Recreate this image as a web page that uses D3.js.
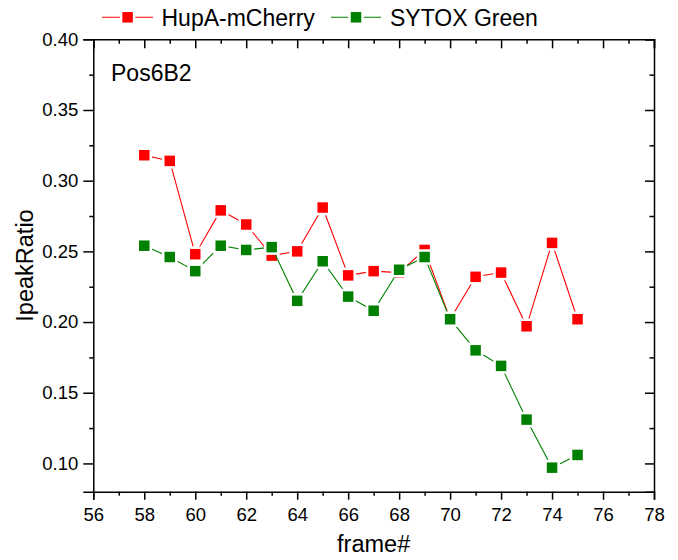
<!DOCTYPE html>
<html>
<head>
<meta charset="utf-8">
<script src="https://cdn.jsdelivr.net/npm/d3@7"></script>
<style>
  html, body { margin: 0; padding: 0; background: #fff; }
  svg { display: block; font-family: "Liberation Sans", Arial, sans-serif; }
</style>
</head>
<body>
<svg id="chart" width="678" height="560"></svg>
<script>
const frames = [58, 59, 60, 61, 62, 63, 64, 65, 66, 67, 68, 69, 70, 71, 72, 73, 74, 75];
const hupaValues = [0.318, 0.314, 0.248, 0.279, 0.269, 0.247, 0.250, 0.281, 0.233, 0.236, 0.235, 0.251, 0.202, 0.232, 0.235, 0.197, 0.256, 0.202];
const sytoxValues = [0.254, 0.246, 0.236, 0.254, 0.251, 0.253, 0.215, 0.243, 0.218, 0.208, 0.237, 0.246, 0.202, 0.180, 0.169, 0.131, 0.097, 0.106];
const xTicks = [56, 58, 60, 62, 64, 66, 68, 70, 72, 74, 76, 78];
const xMinorTicks = [57, 59, 61, 63, 65, 67, 69, 71, 73, 75, 77];
const yTicks = [0.10, 0.15, 0.20, 0.25, 0.30, 0.35, 0.40];
const yMinorTicks = [0.125, 0.175, 0.225, 0.275, 0.325, 0.375];
const seriesNames = ["HupA-mCherry", "SYTOX Green"];
const seriesColors = ["#ff0000", "#008000"];
const xTitle = "frame#";
const yTitle = "IpeakRatio";
const panelLabel = "Pos6B2";

const svg = d3.select("#chart");
const L = 93.3, R = 654, T = 39.3, B = 491.7;
const x = d3.scaleLinear().domain([56, 78]).range([L, R]);
const y = d3.scaleLinear().domain([0.08, 0.40]).range([B, T]);

function styleAxis(g) {
  g.selectAll("path").attr("stroke", "#000").attr("stroke-width", 1.5);
  g.selectAll("line").attr("stroke", "#000").attr("stroke-width", 1.5);
  g.selectAll("text").attr("fill", "#000").attr("font-size", 18.5)
    .attr("font-family", '"Liberation Sans", Arial, sans-serif');
}

// bottom axis
svg.append("g").attr("transform", `translate(0,${B})`)
  .call(d3.axisBottom(x).tickValues(xTicks).tickSize(8).tickPadding(8).tickFormat(d3.format("d")))
  .call(styleAxis);
svg.append("g").attr("transform", `translate(0,${B})`)
  .call(d3.axisBottom(x).tickValues(xMinorTicks).tickSize(4).tickFormat(""))
  .call(styleAxis).select(".domain").remove();
// top axis (inward ticks)
svg.append("g").attr("transform", `translate(0,${T})`)
  .call(d3.axisTop(x).tickValues(xTicks).tickSize(-9).tickFormat(""))
  .call(styleAxis);
svg.append("g").attr("transform", `translate(0,${T})`)
  .call(d3.axisTop(x).tickValues(xMinorTicks).tickSize(-4.5).tickFormat(""))
  .call(styleAxis).select(".domain").remove();
// left axis
svg.append("g").attr("transform", `translate(${L},0)`)
  .call(d3.axisLeft(y).tickValues(yTicks).tickSize(10).tickPadding(5).tickFormat(d3.format(".2f")))
  .call(styleAxis);
svg.append("g").attr("transform", `translate(${L},0)`)
  .call(d3.axisLeft(y).tickValues(yMinorTicks).tickSize(4).tickFormat(""))
  .call(styleAxis).select(".domain").remove();
// right axis (inward ticks)
svg.append("g").attr("transform", `translate(${R},0)`)
  .call(d3.axisRight(y).tickValues(yTicks).tickSize(-9).tickFormat(""))
  .call(styleAxis);
svg.append("g").attr("transform", `translate(${R},0)`)
  .call(d3.axisRight(y).tickValues(yMinorTicks).tickSize(-4.5).tickFormat(""))
  .call(styleAxis).select(".domain").remove();

// axis titles
svg.append("text").attr("x", (L + R) / 2).attr("y", 552).attr("text-anchor", "middle")
  .attr("font-size", 23.5).attr("fill", "#000").text(xTitle);
svg.append("text").attr("transform", `translate(33,${(T + B) / 2}) rotate(-90)`)
  .attr("text-anchor", "middle").attr("font-size", 23.5).attr("fill", "#000").text(yTitle);

// panel label
svg.append("text").attr("x", 111).attr("y", 81).attr("font-size", 23).attr("fill", "#000").text(panelLabel);

// series
const series = [hupaValues, sytoxValues];
const line = d3.line().x((d, i) => x(frames[i])).y(d => y(d));
const mk = 13;
series.forEach((vals, si) => {
  const g = svg.append("g");
  g.append("path").datum(vals).attr("d", line).attr("fill", "none")
    .attr("stroke", seriesColors[si]).attr("stroke-width", 1.1);
  g.selectAll("rect").data(vals).join("rect")
    .attr("x", (d, i) => x(frames[i]) - mk / 2)
    .attr("y", d => y(d) - mk / 2)
    .attr("width", mk).attr("height", mk)
    .attr("fill", seriesColors[si])
    .attr("stroke", "#fff").attr("stroke-width", 2.5);
});

// legend
const legendItems = [
  { x1: 102, x2: 153, mx: 127.6, tx: 161.5 },
  { x1: 331, x2: 381, mx: 356, tx: 390 }
];
legendItems.forEach((it, i) => {
  const g = svg.append("g");
  const ly = 17.3;
  g.append("line").attr("x1", it.x1).attr("x2", it.x2).attr("y1", ly).attr("y2", ly)
    .attr("stroke", seriesColors[i]).attr("stroke-width", 1.1);
  g.append("rect").attr("x", it.mx - mk / 2).attr("y", ly - mk / 2)
    .attr("width", mk).attr("height", mk).attr("fill", seriesColors[i])
    .attr("stroke", "#fff").attr("stroke-width", 2.5);
  g.append("text").attr("x", it.tx).attr("y", 26).attr("font-size", 23)
    .attr("fill", "#000").text(seriesNames[i]);
});
</script>
</body>
</html>
